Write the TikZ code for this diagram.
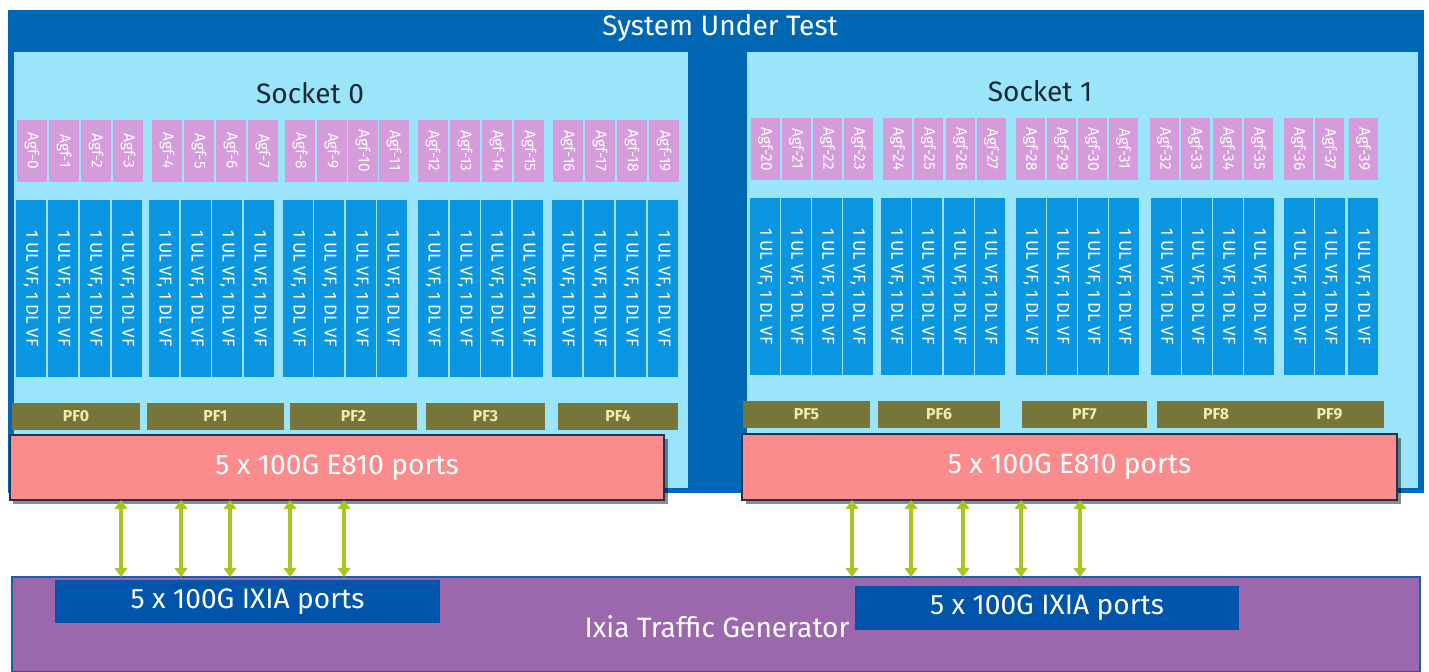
\documentclass[tikz,border=0pt]{standalone}
\usepackage{fontspec}
\setmainfont{Fira Sans}
\usetikzlibrary{arrows.meta,shadows}
\definecolor{sutblue}{HTML}{0067B4}
\definecolor{sockbg}{HTML}{9BE5FA}
\definecolor{agfc}{HTML}{D69BDB}
\definecolor{vfc}{HTML}{0A96E0}
\definecolor{pfc}{HTML}{76763A}
\definecolor{pftext}{HTML}{F0EEA8}
\definecolor{e810c}{HTML}{FA8C8E}
\definecolor{e810b}{HTML}{1E3550}
\definecolor{arrowc}{HTML}{A6C81E}
\definecolor{ixiac}{HTML}{9B68AD}
\definecolor{ixiab}{HTML}{1F5FAA}
\definecolor{portc}{HTML}{0054AA}
\definecolor{socktext}{HTML}{1B2838}
\begin{document}
\begin{tikzpicture}[x=0.02cm,y=-0.02cm,
  box/.style n args={4}{rectangle, inner sep=0pt, outer sep=0pt,
    minimum width={(#3-#1)*0.02cm}, minimum height={(#4-#2)*0.02cm},
    at={({(#1+#3)/2},{(#2+#4)/2})}},
  bigtext/.style={font=\fontsize{16}{18}\selectfont},
  sockettitle/.style={bigtext, text=socktext},
  agf/.style={fill=agfc, text=white, font=\fontsize{8.8}{9}\selectfont},
  vf/.style={fill=vfc, text=white, font=\fontsize{9.8}{10}\selectfont},
  pf/.style={fill=pfc, text=pftext, font=\fontsize{9}{10}\selectfont\bfseries},
  e810/.style={fill=e810c, draw=e810b, line width=1pt, text=white, bigtext,
    drop shadow={shadow xshift=0.07cm, shadow yshift=-0.07cm, fill=black, opacity=0.45}},
  port/.style={fill=portc, text=white, bigtext},
  link/.style={draw=arrowc, line width=2.2pt,
    {Triangle[length=5pt,width=7pt]}-{Triangle[length=5pt,width=7pt]}},
]
\useasboundingbox (0,0) rectangle (1429,672);
\fill[white] (0,0) rectangle (1429,672);

% System under test
\node[box={8}{10}{1424}{493}, fill=sutblue] (sut) {};
\node[bigtext, text=white] (suttitle) at (720,28) {System Under Test};
\node[box={14}{52}{688}{488}, fill=sockbg] (s0) {};
\node[box={747}{52}{1418}{488}, fill=sockbg] (s1) {};
\node[sockettitle] (s0t) at (310,93) {Socket 0};
\node[sockettitle] (s1t) at (1040,91) {Socket 1};

% Agf boxes
\foreach \x [count=\i from 0] in {17,49,81,113,152,184,216,248,285,317,348,379,418,450,482,514,553,585,617,649}
  \node[agf, box={\x}{120}{\x+30}{182}] (agfL\i) {\rotatebox{-90}{Agf-\i}};
\foreach \x/\n in {751/20,782/21,813/22,844/23,883/24,914/25,946/26,977/27,1016/28,1047/29,1078/30,1109/31,1150/32,1181/33,1213/34,1244/35,1284/36,1315/37,1349/39}
  \node[agf, box={\x}{118}{\x+29}{180}] (agfR\n) {\rotatebox{-90}{Agf-\n}};

% VF boxes
\foreach \x [count=\i] in {16,48,80,112,149,181,212,244,283,314,346,377,418,450,481,513,552,584,616,648}
  \node[vf, box={\x}{200}{\x+30}{377}] (vfL\i) {\rotatebox{-90}{1 UL VF, 1 DL VF}};
\foreach \x [count=\i] in {750,781,812,843,881,912,944,975,1016,1047,1078,1109,1151,1182,1213,1244,1284,1315,1348}
  \node[vf, box={\x}{198}{\x+29.5}{375}] (vfR\i) {\rotatebox{-90}{1 UL VF, 1 DL VF}};

% PF boxes
\foreach \a/\b/\n in {12/140/0,147/284/1,290/417/2,426/545/3,558/678/4}
  \node[pf, box={\a}{403}{\b}{430}] (pf\n) {\raisebox{-2pt}{PF\n}};
\foreach \a/\b/\n in {743/870/5,878/1000/6,1022/1147/7,1157/1275/8,1275/1384/9}
  \node[pf, box={\a}{401}{\b}{428}] (pf\n) {\raisebox{-2pt}{PF\n}};

% E810 ports
\node[e810, box={10}{435}{664}{500}] (e810L) {5 x 100G E810 ports};
\node[e810, box={742}{434}{1397}{500}] (e810R) {5 x 100G E810 ports};

% Ixia
\node[box={12}{577}{1420}{672}, fill=ixiac, draw=ixiab, line width=1pt] (ixia) {};
\node[bigtext, text=white] (ixiat) at (717,627) {Ixia Traffic Generator};
\node[port, box={55}{580}{440}{623}] (ixpL) {5 x 100G IXIA ports};
\node[port, box={855}{586}{1239}{630}] (ixpR) {5 x 100G IXIA ports};

% Links
\foreach \x [count=\i] in {121,181,230,290,344} {
  \coordinate (aL\i) at (\x,540);
  \draw[link] (e810L.south -| aL\i) -- (ixia.north -| aL\i);
}
\foreach \x [count=\i] in {852,911,963,1021,1080} {
  \coordinate (aR\i) at (\x,540);
  \draw[link] (e810R.south -| aR\i) -- (ixia.north -| aR\i);
}
\end{tikzpicture}
\end{document}
